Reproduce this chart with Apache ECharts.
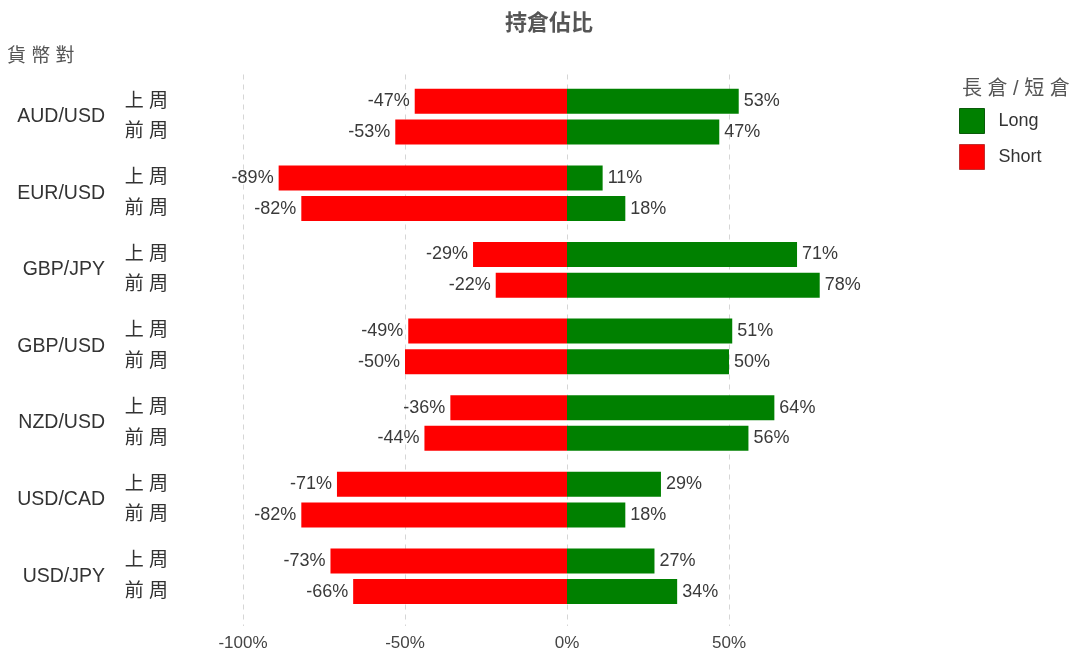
<!DOCTYPE html>
<html>
<head>
<meta charset="utf-8">
<script src="https://cdn.jsdelivr.net/npm/echarts@6/dist/echarts.min.js"></script>
<style>html,body{margin:0;padding:0;background:#fff;}#c{width:1077px;height:658px;}</style>
</head>
<body>
<div id="c"></div>
<script>
const pairs = ['AUD/USD', 'EUR/USD', 'GBP/JPY', 'GBP/USD', 'NZD/USD', 'USD/CAD', 'USD/JPY'];
const weeks = ['上 周', '前 周'];
const longLast = [53, 11, 71, 51, 64, 29, 27];
const shortLast = [-47, -89, -29, -49, -36, -71, -73];
const longPrev = [47, 18, 78, 50, 56, 18, 34];
const shortPrev = [-53, -82, -22, -50, -44, -82, -66];
const xTickMin = -100, xTickMax = 90, xTickStep = 50;

const FONT = "'Liberation Sans', 'Noto Sans CJK TC', sans-serif";
const SLOTS = 72, STEP = 10, FIRST = 3, SECOND = 7, MID = 5;

const weekCats = new Array(SLOTS).fill('');
const pairCats = new Array(SLOTS).fill('');
const longData = new Array(SLOTS).fill('-');
const shortData = new Array(SLOTS).fill('-');
pairs.forEach((p, i) => {
  const a = FIRST + STEP * i, b = SECOND + STEP * i;
  weekCats[a] = weeks[0]; weekCats[b] = weeks[1];
  pairCats[MID + STEP * i] = p;
  longData[a] = longLast[i]; longData[b] = longPrev[i];
  shortData[a] = shortLast[i]; shortData[b] = shortPrev[i];
});

const chart = echarts.init(document.getElementById('c'), null, {renderer: 'canvas'});
const labelStyle = {show: true, fontSize: 18, color: '#3a3a3a', fontFamily: FONT, formatter: '{c}%', distance: 5};
chart.setOption({
  animation: false,
  textStyle: {fontFamily: FONT},
  title: {
    text: '持倉佔比', left: 500, top: 8,
    textStyle: {fontSize: 22, fontWeight: 'bold', color: '#555', fontFamily: FONT}
  },
  graphic: [
    {type: 'text', left: 7, top: 47, style: {text: '貨 幣 對', fontSize: 19, fill: '#555', fontFamily: FONT}},
    {type: 'text', left: 962, top: 79, style: {text: '長 倉 / 短 倉', fontSize: 20, fill: '#555', fontFamily: FONT}}
  ],
  legend: {
    orient: 'vertical', left: 959, top: 108, padding: 0,
    itemWidth: 25, itemHeight: 25, itemGap: 10, icon: 'rect',
    textStyle: {fontSize: 18, color: '#333', fontFamily: FONT, padding: [0, 0, 0, 9]},
    data: [
      {name: 'Long', itemStyle: {borderColor: '#0a5a0a', borderWidth: 1}},
      {name: 'Short', itemStyle: {borderColor: '#c03030', borderWidth: 1}}
    ]
  },
  grid: {left: 243, top: 74.5, width: 615.6, height: 551.5, containLabel: false},
  xAxis: {
    type: 'value', min: xTickMin, max: xTickMax, interval: xTickStep,
    axisLine: {show: false}, axisTick: {show: false},
    axisLabel: {formatter: '{value}%', fontSize: 17, color: '#444', margin: 9, showMaxLabel: false, fontFamily: FONT},
    splitLine: {show: true, showMaxLine: false, lineStyle: {type: [5, 5], color: '#d6d6d6', width: 1}}
  },
  yAxis: [
    {
      type: 'category', data: weekCats, inverse: true, position: 'left',
      axisLine: {show: false}, axisTick: {show: false}, splitLine: {show: false},
      axisLabel: {interval: 0, margin: 75, fontSize: 19, color: '#333', fontFamily: FONT}
    },
    {
      type: 'category', data: pairCats, inverse: true, position: 'left', offset: 0,
      axisLine: {show: false}, axisTick: {show: false}, splitLine: {show: false},
      axisLabel: {interval: 0, margin: 138, fontSize: 19.5, color: '#333', fontFamily: FONT}
    }
  ],
  series: [
    {
      name: 'Long', type: 'bar', stack: 'pos', barWidth: 25, yAxisIndex: 0,
      itemStyle: {color: '#008000'},
      label: Object.assign({position: 'right'}, labelStyle),
      data: longData
    },
    {
      name: 'Short', type: 'bar', stack: 'pos', barWidth: 25, yAxisIndex: 0,
      itemStyle: {color: '#ff0000'},
      label: Object.assign({position: 'left'}, labelStyle),
      data: shortData
    }
  ]
});
</script>
</body>
</html>
